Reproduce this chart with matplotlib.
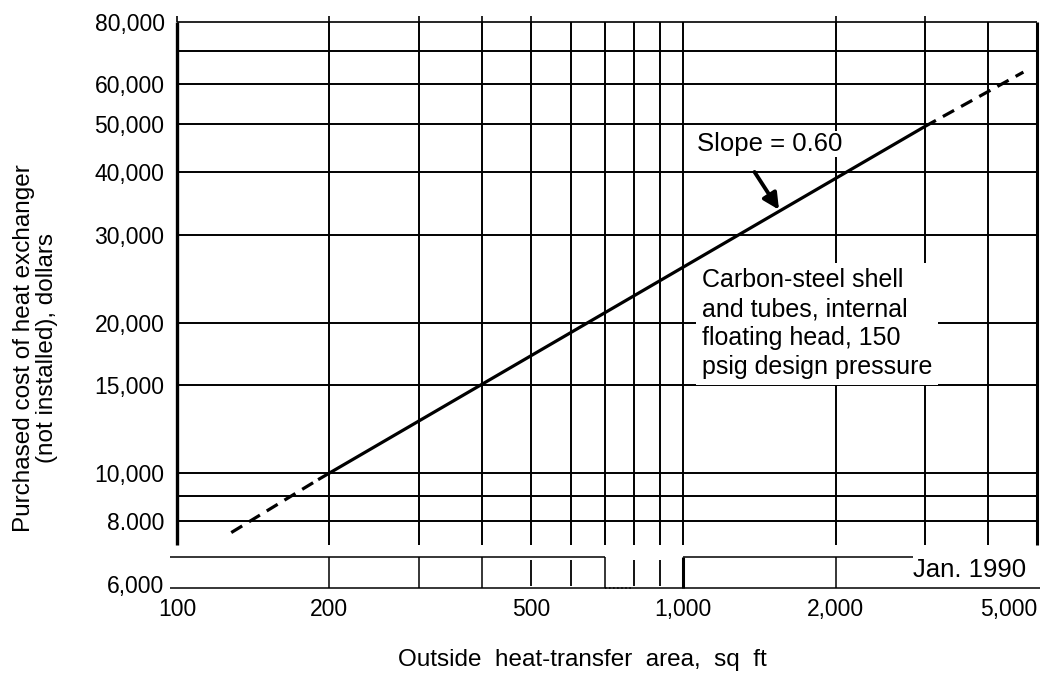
import matplotlib
matplotlib.use("Agg")
import matplotlib.pyplot as plt
from matplotlib.ticker import NullLocator, NullFormatter

plt.rcParams['font.family'] = ['Liberation Sans', 'DejaVu Sans']

# cost line (area sq ft, dollars)
line_area = [128, 190, 3000, 4700]
line_cost = [7600, 9700, 49400, 63500]

# axis ticks
x_ticks = [100, 200, 500, 1000, 2000, 5000]
x_labels = ["100", "200", "500", "1,000", "2,000", "5,000"]
y_ticks = [6000, 8000, 10000, 15000, 20000, 30000, 40000, 50000, 60000, 80000]
y_labels = ["6,000", "8.000", "10,000", "15,000", "20,000", "30,000",
            "40,000", "50,000", "60,000", "80,000"]

# grid of the log paper
x_grid = [200, 300, 400, 500, 600, 700, 800, 900, 1000, 2000, 3000, 4000]
y_grid = [70000, 60000, 50000, 40000, 30000, 20000, 15000, 10000, 9000, 8000]
top_stubs = [100, 200, 300, 400, 500, 2000, 3000]

# lower strip (6,000 row) of the scanned paper
strip_full = [200, 300, 400, 700, 2000]
strip_short = [500, 600, 800, 900]

x_lo, x_hi = 100, 5000
y_lo, y_hi = 5886, 80000
main_bottom = 7172
strip_top = 6787

fig = plt.figure(figsize=(10.46, 6.73), dpi=100)
ax = fig.add_axes([177 / 1046, (673 - 588) / 673, 860 / 1046, 566 / 673])
ax.set_xscale("log")
ax.set_yscale("log")
ax.set_xlim(x_lo, x_hi)
ax.set_ylim(y_lo, y_hi)
for s in ax.spines.values():
    s.set_visible(False)

k = dict(color="black", clip_on=False, solid_capstyle="butt")

# main grid
for x in x_grid:
    ax.plot([x, x], [main_bottom, y_hi], lw=1.4, **k)
for y in y_grid:
    ax.plot([x_lo, x_hi], [y, y], lw=1.4, **k)
ax.plot([x_lo, x_hi], [y_hi, y_hi], lw=1.2, **k)
ax.plot([x_lo, x_lo], [main_bottom, y_hi], lw=2.4, **k)
ax.plot([x_hi, x_hi], [main_bottom, y_hi], lw=2.2, **k)
for x in top_stubs:
    ax.plot([x, x], [y_hi, 82300], lw=1.2, **k)

# strip
ax.plot([97, 700], [strip_top, strip_top], lw=1.1, **k)
ax.plot([1000, 2850], [strip_top, strip_top], lw=1.1, **k)
ax.plot([97, 5060], [y_lo, y_lo], lw=1.1, **k)
for x in strip_full:
    ax.plot([x, x], [y_lo, strip_top], lw=1.1, **k)
for x in strip_short:
    ax.plot([x, x], [5950, 6700], lw=1.3, **k)
ax.plot([1000, 1000], [y_lo, strip_top], lw=2.2, **k)
ax.plot([700, 790], [y_lo, y_lo], lw=1.1, ls=":", **k)
ax.text(2850, 6389, "Jan. 1990", fontsize=18.5, ha="left", va="center")

# cost line
ax.plot(line_area[0:2], line_cost[0:2], lw=2.3, dashes=(4, 2.5), color="black", zorder=5)
ax.plot(line_area[1:3], line_cost[1:3], lw=2.3, color="black", zorder=5,
        solid_capstyle="butt")
ax.plot(line_area[2:4], line_cost[2:4], lw=2.3, dashes=(4, 2.5), color="black", zorder=5)

# annotations
ax.text(1067, 45600, "Slope = 0.60", fontsize=18.5, ha="left", va="center", zorder=4,
        bbox=dict(facecolor="white", edgecolor="none", pad=1))
ax.annotate("", xy=(1557, 33300), xytext=(1374, 40500),
            arrowprops=dict(arrowstyle="-|>", lw=2.8, color="black", mutation_scale=24),
            zorder=6)
ax.text(1088, 19900,
        "Carbon-steel shell\nand tubes, internal\nfloating head, 150\npsig design pressure",
        fontsize=18, ha="left", va="center", linespacing=1.27, zorder=4,
        bbox=dict(facecolor="white", edgecolor="none", pad=4))

# ticks
ax.xaxis.set_minor_locator(NullLocator())
ax.yaxis.set_minor_locator(NullLocator())
ax.xaxis.set_minor_formatter(NullFormatter())
ax.yaxis.set_minor_formatter(NullFormatter())
ax.set_xticks(x_ticks, x_labels, fontsize=16.5)
ax.set_yticks(y_ticks, y_labels, fontsize=16.5)
ax.tick_params(length=0)
ax.tick_params(axis="x", pad=7)
ax.tick_params(axis="y", pad=9)
ax.get_xticklabels()[-1].set_horizontalalignment("right")
ax.get_xticklabels()[-1].set_x(5080)

fig.text(582 / 1046, 1 - 660 / 673, "Outside  heat-transfer  area,  sq  ft",
         fontsize=17.5, ha="center", va="center")
fig.text(0.034, 0.483, "Purchased cost of heat exchanger\n(not installed), dollars",
         rotation=90, fontsize=17.5, ha="center", va="center",
         multialignment="center", linespacing=1.05)

fig.savefig("out.png", dpi=100)
